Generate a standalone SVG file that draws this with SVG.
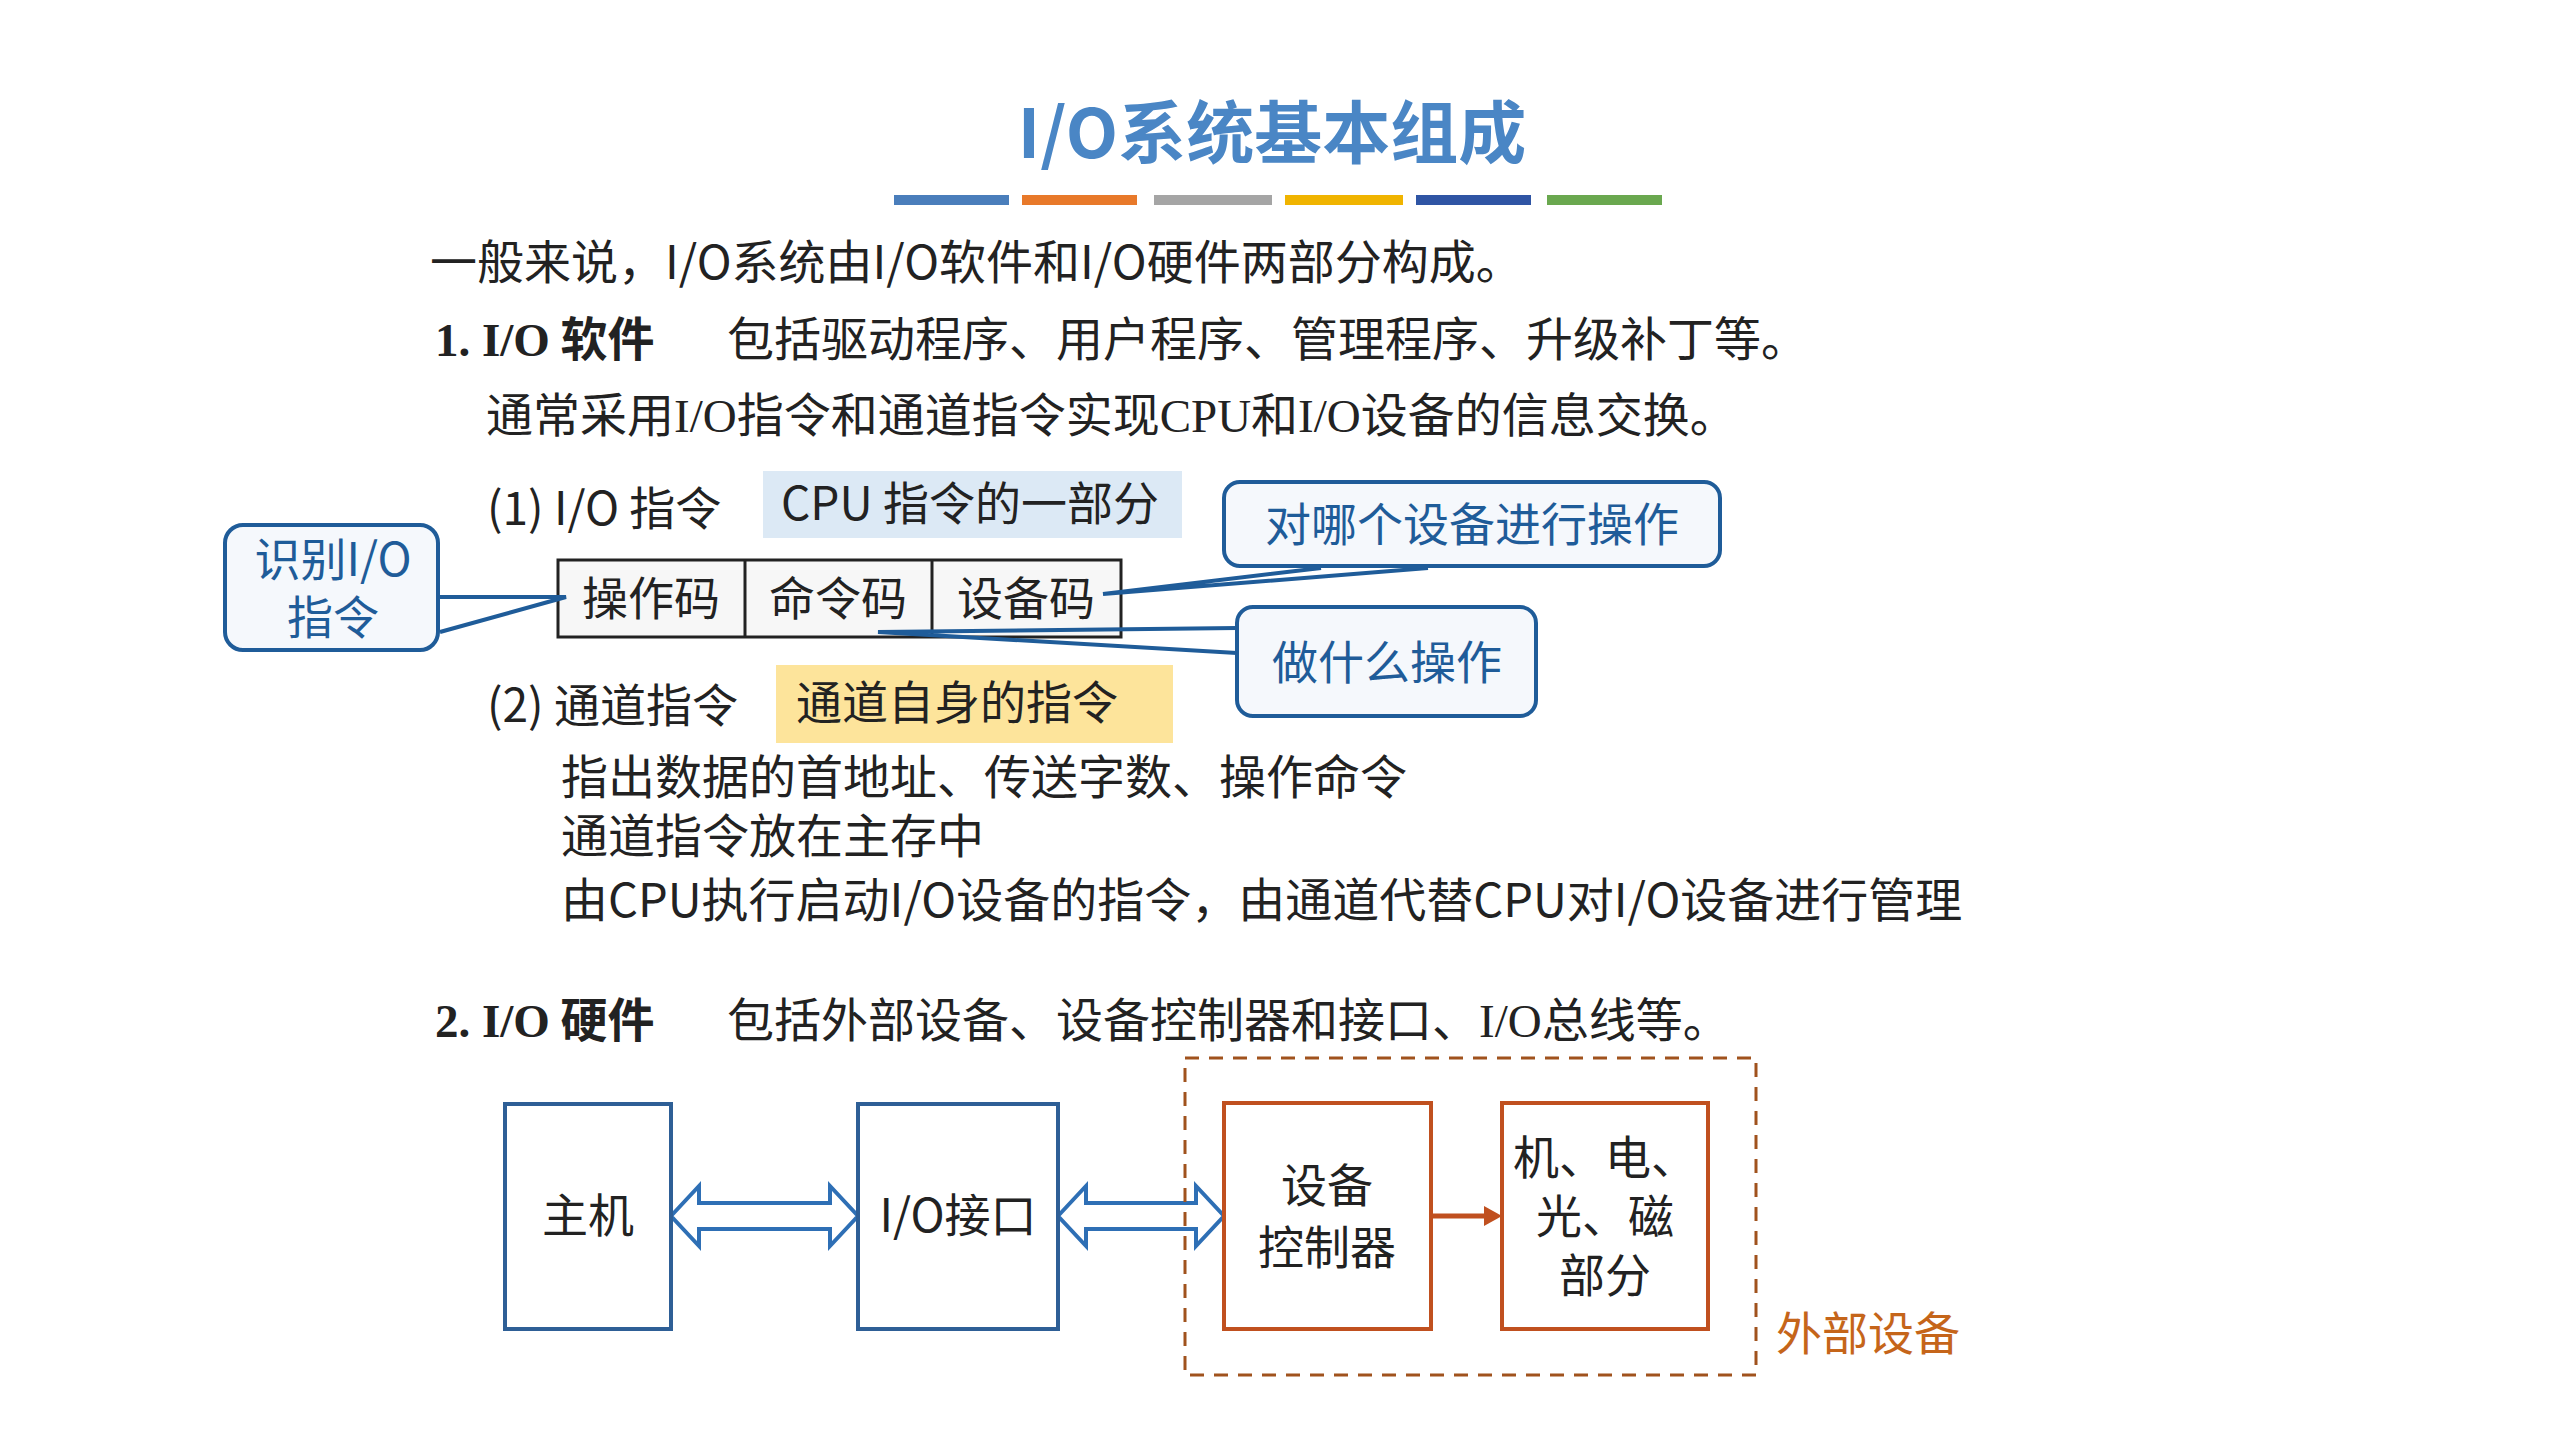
<svg xmlns="http://www.w3.org/2000/svg" width="2560" height="1440" viewBox="0 0 2560 1440">
<style>
text{font-family:"Noto Sans CJK SC","Noto Sans",sans-serif;font-size:46px;fill:#222}
.s{font-family:"Liberation Serif","Noto Sans CJK SC",serif}
.b{font-weight:bold}
.c{text-anchor:middle}
.blue{fill:#1f5c99}
.call{fill:#f5f8fc;stroke:#1f5c99;stroke-width:4}
.wedge{fill:none;stroke:#1f5c99;stroke-width:4;stroke-linejoin:miter}
.hb{fill:#fff;stroke:#2e5f96;stroke-width:4}
.ob{fill:#fff;stroke:#c0501f;stroke-width:4}
.dbl{fill:#fff;stroke:#2e6fb5;stroke-width:4}
</style>
<rect width="2560" height="1440" fill="#fff"/>
<g id="title">
<text x="1272" y="158" class="c b" style="font-size:68px;fill:#4a86c5">I/O系统基本组成</text>
<rect x="894" y="195" width="115" height="10" fill="#4a7ebb"/>
<rect x="1022" y="195" width="115" height="10" fill="#e8792a"/>
<rect x="1154" y="195" width="118" height="10" fill="#a5a5a5"/>
<rect x="1285" y="195" width="118" height="10" fill="#f0b400"/>
<rect x="1416" y="195" width="115" height="10" fill="#2f55a4"/>
<rect x="1547" y="195" width="115" height="10" fill="#6aa84f"/>
</g>
<g id="text">
<text x="430" y="279" style="font-size:47px">一般来说，I/O系统由I/O软件和I/O硬件两部分构成。</text>
<text x="435" y="356" class="b" style="font-size:47px"><tspan class="s">1. I/O</tspan> 软件</text>
<text x="727" y="356" style="font-size:47px">包括驱动程序、用户程序、管理程序、升级补丁等。</text>
<text x="486" y="432" class="s" style="font-size:47px">通常采用I/O指令和通道指令实现CPU和I/O设备的信息交换。</text>
<text x="487" y="525">(1) I/O 指令</text>
<rect x="763" y="471" width="419" height="67" fill="#dce9f5"/>
<text x="781" y="520">CPU 指令的一部分</text>
<text x="487" y="722">(2) 通道指令</text>
<rect x="776" y="665" width="397" height="78" fill="#fde49b"/>
<text x="796" y="719">通道自身的指令</text>
<text x="561" y="794" style="font-size:47px">指出数据的首地址、传送字数、操作命令</text>
<text x="561" y="853" style="font-size:47px">通道指令放在主存中</text>
<text x="561" y="917" style="font-size:47px">由CPU执行启动I/O设备的指令，由通道代替CPU对I/O设备进行管理</text>
<text x="435" y="1037" class="b" style="font-size:47px"><tspan class="s">2. I/O</tspan> 硬件</text>
<text x="727" y="1037" class="s" style="font-size:47px">包括外部设备、设备控制器和接口、I/O总线等。</text>
</g>
<g id="instr">
<rect x="558" y="560" width="563" height="77" fill="#f7f7f7" stroke="#222" stroke-width="3"/>
<line x1="745" y1="560" x2="745" y2="637" stroke="#222" stroke-width="3"/>
<line x1="932" y1="560" x2="932" y2="637" stroke="#222" stroke-width="3"/>
<text x="651" y="615" class="c">操作码</text>
<text x="838" y="615" class="c">命令码</text>
<text x="1026" y="615" class="c">设备码</text>
</g>
<g id="connectors">
<polyline class="wedge" points="440,597 566,597 440,632"/>
<polyline class="wedge" points="1237,628 878,632 1237,653"/>
<polyline class="wedge" points="1321,568 1103,594 1428,568"/>
<path class="dbl" d="M671,1216 L699,1186 L699,1203 L830,1203 L830,1186 L858,1216 L830,1246 L830,1229 L699,1229 L699,1246 Z"/>
<path class="dbl" d="M1058,1216 L1086,1186 L1086,1203 L1196,1203 L1196,1186 L1224,1216 L1196,1246 L1196,1229 L1086,1229 L1086,1246 Z"/>
<line x1="1431" y1="1216" x2="1486" y2="1216" stroke="#c0501f" stroke-width="5"/>
<polygon points="1502,1216 1484,1206 1484,1226" fill="#c0501f"/>
</g>
<g id="call1">
<rect class="call" x="225" y="525" width="213" height="125" rx="18"/>
<text x="333" y="576" class="c blue">识别I/O</text>
<text x="333" y="634" class="c blue">指令</text>
</g>
<g id="call2">
<rect class="call" x="1224" y="482" width="496" height="84" rx="16"/>
<text x="1472" y="541" class="c blue">对哪个设备进行操作</text>
</g>
<g id="call3">
<rect class="call" x="1237" y="607" width="299" height="109" rx="16"/>
<text x="1387" y="679" class="c blue">做什么操作</text>
</g>
<g id="host">
<rect class="hb" x="505" y="1104" width="166" height="225"/>
<text x="588" y="1232" class="c">主机</text>
</g>
<g id="iface">
<rect class="hb" x="858" y="1104" width="200" height="225"/>
<text x="958" y="1232" class="c">I/O接口</text>
</g>
<g id="ext">
<rect x="1185" y="1058" width="571" height="317" fill="none" stroke="#a0521d" stroke-width="3" stroke-dasharray="14,10"/>
<text x="1776" y="1350" style="fill:#c5651a">外部设备</text>
</g>
<g id="ctrl">
<rect class="ob" x="1224" y="1103" width="207" height="226"/>
<text x="1327" y="1202" class="c">设备</text>
<text x="1327" y="1264" class="c">控制器</text>
</g>
<g id="dev">
<rect class="ob" x="1502" y="1103" width="206" height="226"/>
<text x="1605" y="1174" class="c">机、电、</text>
<text x="1605" y="1233" class="c">光、磁</text>
<text x="1605" y="1292" class="c">部分</text>
</g>
</svg>
